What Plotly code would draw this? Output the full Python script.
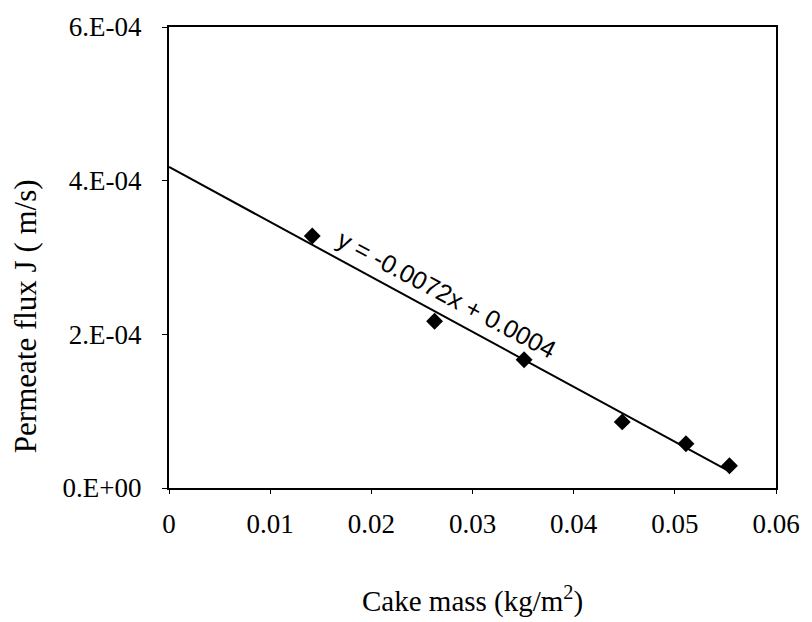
import numpy as np
import plotly.graph_objects as go

# Measured permeate flux versus deposited cake mass
cake_mass = [0.01416, 0.02625, 0.0351, 0.0448, 0.0511, 0.0554]          # kg/m^2
permeate_flux = [3.28e-4, 2.17e-4, 1.67e-4, 0.86e-4, 0.575e-4, 0.29e-4]  # m/s

x_ticks = [0, 0.01, 0.02, 0.03, 0.04, 0.05, 0.06]
x_tick_text = ["0", "0.01", "0.02", "0.03", "0.04", "0.05", "0.06"]
y_ticks = [0, 2e-4, 4e-4, 6e-4]
y_tick_text = ["0.E+00", "2.E-04", "4.E-04", "6.E-04"]

equation_text = "y = -0.0072x + 0.0004"

# Linear trendline, extended back to zero cake mass
slope, intercept = np.polyfit(cake_mass, permeate_flux, 1)
trend_x = np.array([0.0, max(cake_mass)])
trend_y = slope * trend_x + intercept

serif = "Liberation Serif"
fig = go.Figure()

fig.add_trace(go.Scatter(
    x=trend_x, y=trend_y, mode="lines",
    line=dict(color="black", width=2), showlegend=False, hoverinfo="skip",
))
fig.add_trace(go.Scatter(
    x=cake_mass, y=permeate_flux, mode="markers",
    marker=dict(symbol="diamond", size=13, color="black"),
    showlegend=False,
))

fig.update_xaxes(
    range=[0, 0.06], tickvals=x_ticks, ticktext=x_tick_text,
    showline=True, linecolor="black", linewidth=2, mirror=True,
    ticks="outside", ticklen=4, tickcolor="black",
    showgrid=False, zeroline=False, ticklabelstandoff=7,
    tickfont=dict(family=serif, size=27, color="black"),
)
fig.update_yaxes(
    range=[0, 6e-4], tickvals=y_ticks, ticktext=y_tick_text,
    showline=True, linecolor="black", linewidth=2, mirror=True,
    ticks="outside", ticklen=5, tickcolor="black",
    showgrid=False, zeroline=False, ticklabelstandoff=15,
    tickfont=dict(family=serif, size=27, color="black"),
)

fig.add_annotation(
    x=0.0274, y=2.52e-4, xref="x", yref="y", text=equation_text,
    textangle=28, showarrow=False,
    font=dict(family="Liberation Sans", size=25, color="black"),
)
fig.add_annotation(
    x=0.5, y=-0.241, xref="paper", yref="paper",
    xanchor="center", yanchor="middle",
    text="Cake mass (kg/m<sup>2</sup>)", showarrow=False,
    font=dict(family=serif, size=29, color="black"),
)
fig.add_annotation(
    x=-0.237, y=0.373, xref="paper", yref="paper",
    xanchor="center", yanchor="middle",
    text="Permeate flux J ( m/s)", textangle=-90, showarrow=False,
    font=dict(family=serif, size=31, color="black"),
)

fig.update_layout(
    width=812, height=622,
    margin=dict(l=169, r=32, t=19, b=134),
    paper_bgcolor="white", plot_bgcolor="white",
)

fig.write_html("out.html")
